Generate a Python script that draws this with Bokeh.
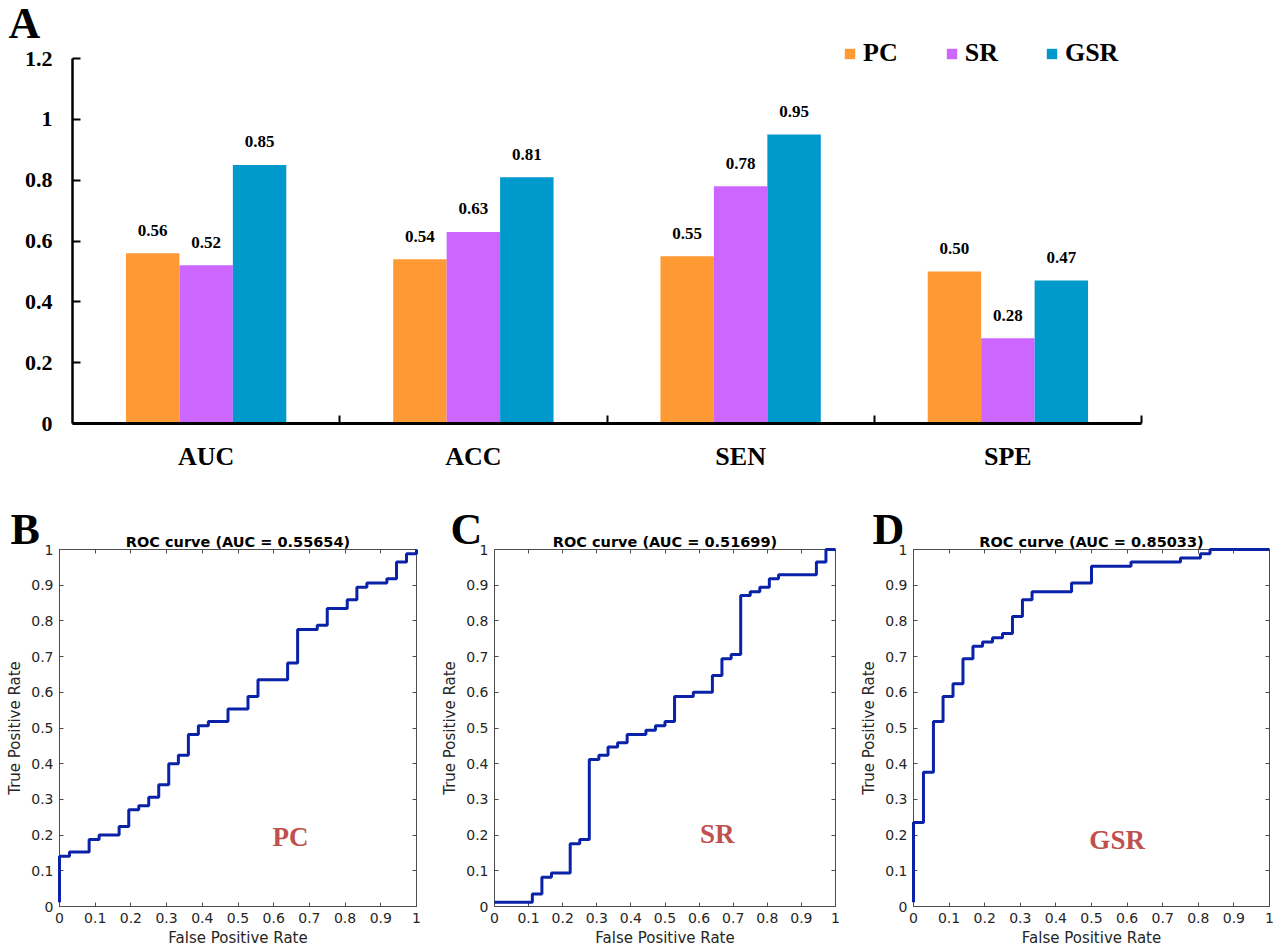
from bokeh.plotting import figure
from bokeh.models import (Range1d, FixedTicker, Legend, LegendItem, Label,
                          LinearAxis, ColumnDataSource, CustomLabelingPolicy)
from bokeh.layouts import column, row
from bokeh.embed import file_html
from bokeh.resources import INLINE
from bokeh.core.properties import value

# ---------------- data ----------------
categories = ["AUC", "ACC", "SEN", "SPE"]
series_names = ["PC", "SR", "GSR"]
pc_vals = [0.56, 0.54, 0.55, 0.50]
sr_vals = [0.52, 0.63, 0.78, 0.28]
gsr_vals = [0.85, 0.81, 0.95, 0.47]
y_ticks = [0, 0.2, 0.4, 0.6, 0.8, 1, 1.2]
y_tick_labels = ["0", "0.2", "0.4", "0.6", "0.8", "1", "1.2"]

roc_ticks = [0, 0.1, 0.2, 0.3, 0.4, 0.5, 0.6, 0.7, 0.8, 0.9, 1]
roc_tick_labels = ["0", "0.1", "0.2", "0.3", "0.4", "0.5", "0.6", "0.7", "0.8", "0.9", "1"]
roc_auc = [0.55654, 0.51699, 0.85033]

fpr_pc = [0, 0, 0.028, 0.083, 0.111, 0.167, 0.194, 0.222, 0.25, 0.278, 0.306, 0.333,
          0.361, 0.389, 0.417, 0.472, 0.528, 0.556, 0.639, 0.667, 0.722, 0.75, 0.806,
          0.833, 0.861, 0.917, 0.944, 0.972, 1.0]
tpr_pc = [0.012, 0.141, 0.153, 0.188, 0.2, 0.224, 0.271, 0.282, 0.306, 0.341, 0.4, 0.424,
          0.482, 0.506, 0.518, 0.553, 0.588, 0.635, 0.682, 0.776, 0.788, 0.835, 0.859,
          0.894, 0.906, 0.918, 0.965, 0.988, 1.0]

fpr_sr = [0, 0.111, 0.139, 0.167, 0.222, 0.25, 0.278, 0.306, 0.333, 0.361, 0.389, 0.444,
          0.472, 0.5, 0.528, 0.583, 0.639, 0.667, 0.694, 0.722, 0.75, 0.778, 0.806, 0.833,
          0.944, 0.972, 1.0]
tpr_sr = [0.012, 0.035, 0.082, 0.094, 0.176, 0.188, 0.412, 0.424, 0.447, 0.459, 0.482, 0.494,
          0.506, 0.518, 0.588, 0.6, 0.647, 0.694, 0.706, 0.871, 0.882, 0.894, 0.918, 0.929,
          0.965, 1.0, 1.0]

fpr_gsr = [0, 0, 0.028, 0.056, 0.083, 0.111, 0.139, 0.167, 0.194, 0.222, 0.25, 0.278,
           0.306, 0.333, 0.444, 0.5, 0.611, 0.75, 0.806, 0.833, 1.0]
tpr_gsr = [0.012, 0.235, 0.376, 0.518, 0.588, 0.624, 0.694, 0.729, 0.741, 0.753, 0.765, 0.812,
           0.859, 0.882, 0.906, 0.953, 0.965, 0.976, 0.988, 1.0, 1.0]

# ---------------- styles ----------------
SERIF = "Liberation Serif"
SANS = "DejaVu Sans"
bar_colors = ["#FF9933", "#CC66FF", "#0099CC"]
curve_color = "#0A22A8"
name_color = "#C0504D"
axis_gray = "#4D4D4D"
label_gray = "#262626"


class Mapper:
    """Maps page pixels to data values for a figure whose frame fills it."""

    def __init__(self, left, top, w, h, px0, px1, vx0, vx1, py0, py1, vy0, vy1):
        self.sx = (px1 - px0) / (vx1 - vx0)
        self.sy = (py0 - py1) / (vy1 - vy0)
        self.px0, self.vx0, self.py0, self.vy0 = px0, vx0, py0, vy0
        self.x_start = vx0 - (px0 - left) / self.sx
        self.x_end = vx1 + (left + w - px1) / self.sx
        self.y_start = vy0 - (top + h - py0) / self.sy
        self.y_end = vy1 + (py1 - top) / self.sy

    def x(self, px):
        return self.vx0 + (px - self.px0) / self.sx

    def y(self, py):
        return self.vy0 + (self.py0 - py) / self.sy


def bare_fig(w, h, m):
    p = figure(width=w, height=h, min_border_left=0, min_border_right=0,
               min_border_top=0, min_border_bottom=0,
               x_range=Range1d(m.x_start, m.x_end), y_range=Range1d(m.y_start, m.y_end),
               output_backend="svg", toolbar_location=None)
    p.grid.visible = False
    p.outline_line_color = None
    return p


# ---------------- panel A ----------------
TOP_W, TOP_H = 1282, 490
mA = Mapper(0, 0, TOP_W, TOP_H, 72, 1141, 0, len(categories), 423, 58, 0, 1.2)
top = bare_fig(TOP_W, TOP_H, mA)

series = [pc_vals, sr_vals, gsr_vals]
n = len(series)
bw = 0.2
items = []
for j, (name, vals, col) in enumerate(zip(series_names, series, bar_colors)):
    xs = [i + 0.5 + (j - (n - 1) / 2) * bw for i in range(len(categories))]
    src = ColumnDataSource(dict(x=xs, top=vals, lab=[f"{v:.2f}" for v in vals]))
    r = top.vbar(x="x", top="top", bottom=0, width=bw, source=src,
                 fill_color=col, line_color=None)
    top.text(x="x", y="top", text="lab", source=src, text_align="center",
             text_baseline="alphabetic", y_offset=-23, text_font=value(SERIF),
             text_font_style="bold", text_font_size="17px", text_color="black")
    items.append(LegendItem(label=name, renderers=[r]))

xa = top.xaxis[0]
xa.fixed_location = 0
xa.bounds = (0, len(categories))
xa.ticker = FixedTicker(ticks=[i + 0.5 for i in range(len(categories))],
                        minor_ticks=[i + 1 for i in range(len(categories))])
xa.major_label_overrides = {i + 0.5: c for i, c in enumerate(categories)}
xa.major_tick_in = 0
xa.major_tick_out = 0
xa.minor_tick_in = 8
xa.minor_tick_out = 0
xa.minor_tick_line_width = 2
xa.minor_tick_line_color = "black"
xa.axis_line_width = 3
xa.axis_line_color = "black"
xa.major_label_text_font = SERIF
xa.major_label_text_font_style = "bold"
xa.major_label_text_font_size = "26px"
xa.major_label_text_color = "black"
xa.major_label_standoff = 18

ya = top.yaxis[0]
ya.fixed_location = 0
ya.bounds = (0, 1.2)
ya.ticker = FixedTicker(ticks=y_ticks)
ya.major_label_overrides = dict(zip(y_ticks, y_tick_labels))
ya.major_tick_in = 8
ya.major_tick_out = 0
ya.major_tick_line_width = 2
ya.major_tick_line_color = "black"
ya.minor_tick_in = 0
ya.minor_tick_out = 0
ya.axis_line_width = 2.5
ya.axis_line_color = "black"
ya.major_label_text_font = SERIF
ya.major_label_text_font_style = "bold"
ya.major_label_text_font_size = "22px"
ya.major_label_text_color = "black"
ya.major_label_standoff = 20

legend = Legend(items=items, orientation="horizontal", location=(843, 422),
                glyph_width=13, glyph_height=13, label_standoff=7, spacing=47,
                padding=0, margin=0, border_line_color=None,
                background_fill_alpha=0, label_text_font=SERIF,
                label_text_font_style="bold", label_text_font_size="26px",
                label_text_color="black")
top.add_layout(legend)

top.add_layout(Label(x=mA.x(8), y=mA.y(23), text="A", text_font=SERIF,
                     text_font_style="bold", text_font_size="44px",
                     text_baseline="alphabetic", text_align="left",
                     text_color="black"))

# ---------------- panels B, C, D ----------------
ROW_TOP = TOP_H
ROW_H = 949 - TOP_H
hide_labels = CustomLabelingPolicy(code="return []")


def roc_fig(fpr, tpr, auc, name, fig_left, fig_w, px0, px1, letter, letter_px, name_pos):
    m = Mapper(fig_left, ROW_TOP, fig_w, ROW_H, px0, px1, 0, 1, 906, 549, 0, 1)
    p = bare_fig(fig_w, ROW_H, m)

    for ax, lab in ((p.xaxis[0], "False Positive Rate"), (p.yaxis[0], "True Positive Rate")):
        ax.fixed_location = 0
        ax.bounds = (0, 1)
        ax.ticker = FixedTicker(ticks=roc_ticks)
        ax.major_label_overrides = dict(zip(roc_ticks, roc_tick_labels))
        ax.major_tick_in = 4
        ax.major_tick_out = 0
        ax.major_tick_line_color = axis_gray
        ax.minor_tick_in = 0
        ax.minor_tick_out = 0
        ax.axis_line_color = axis_gray
        ax.major_label_text_font = SANS
        ax.major_label_text_font_size = "14px"
        ax.major_label_text_color = label_gray
        ax.axis_label = lab
        ax.axis_label_text_font = SANS
        ax.axis_label_text_font_size = "15px"
        ax.axis_label_text_font_style = "normal"
        ax.axis_label_text_color = label_gray
    p.xaxis[0].major_label_standoff = 6
    p.xaxis[0].axis_label_standoff = 3
    p.yaxis[0].major_label_standoff = 6
    p.yaxis[0].axis_label_standoff = 4

    for side in ("above", "right"):
        ax = LinearAxis(ticker=FixedTicker(ticks=roc_ticks), fixed_location=1,
                        bounds=(0, 1), major_tick_in=4, major_tick_out=0,
                        minor_tick_in=0, minor_tick_out=0,
                        major_label_policy=hide_labels,
                        axis_line_color=axis_gray, major_tick_line_color=axis_gray)
        p.add_layout(ax, side)

    p.step(x=fpr, y=tpr, mode="after", line_color=curve_color, line_width=3,
           level="overlay")
    p.text(x=[name_pos[0]], y=[name_pos[1]], text=[name], text_font=value(SERIF),
           text_font_style="bold", text_font_size="27px", text_color=name_color,
           text_align="center", text_baseline="middle")

    p.add_layout(Label(x=0.5, y=m.y(541), text=f"ROC curve (AUC = {auc:.5f})",
                       text_font=SANS, text_font_style="bold", text_font_size="14.5px",
                       text_baseline="alphabetic", text_align="center",
                       text_color="black"))
    p.add_layout(Label(x=m.x(letter_px[0]), y=m.y(letter_px[1]), text=letter,
                       text_font=SERIF, text_font_style="bold", text_font_size="44px",
                       text_baseline="alphabetic", text_align="left",
                       text_color="black"))
    return p


pB = roc_fig(fpr_pc, tpr_pc, roc_auc[0], series_names[0], 0, 430, 59, 416,
             "B", (10, 529), (0.647, 0.196))
pC = roc_fig(fpr_sr, tpr_sr, roc_auc[1], series_names[1], 430, 430, 494, 835,
             "C", (450, 529), (0.653, 0.204))
pD = roc_fig(fpr_gsr, tpr_gsr, roc_auc[2], series_names[2], 860, 422, 913, 1269,
             "D", (872, 529), (0.572, 0.185))

layout = column(top, row(pB, pC, pD))
open("out.html", "w").write(file_html(layout, INLINE))
